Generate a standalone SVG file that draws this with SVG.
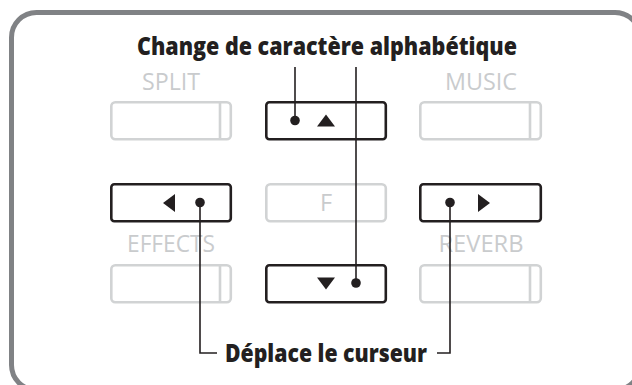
<svg xmlns="http://www.w3.org/2000/svg" width="632" height="385" viewBox="0 0 632 385">
<style>
.frame{fill:#fff;stroke:#808285;stroke-width:5}
.gbtn{fill:#fff;stroke:#d1d3d4;stroke-width:2.6}
.gline{stroke:#d1d3d4;stroke-width:2.6}
.kbtn{fill:#fff;stroke:#231f20;stroke-width:2.6}
.glabel{font-family:"Open Sans","Noto Sans",sans-serif;font-size:23.5px;fill:#c9cbcd;text-anchor:middle}
.title{font-family:"Open Sans","Noto Sans",sans-serif;font-size:24px;font-weight:800;fill:#231f20;text-anchor:middle}
.conn{fill:none;stroke:#231f20;stroke-width:1.6}
.dot{fill:#231f20}
.tri{fill:#231f20}
</style>
<rect class="frame" x="11.5" y="12.5" width="628.5" height="377.5" rx="25"/>
<text class="title" x="327" y="55" textLength="380" lengthAdjust="spacingAndGlyphs">Change de caractère alphabétique</text>
<text class="title" x="326" y="362" textLength="202" lengthAdjust="spacingAndGlyphs">Déplace le curseur</text>
<g id="split">
<text class="glabel" x="171" y="89.5" textLength="58" lengthAdjust="spacingAndGlyphs">SPLIT</text>
<rect class="gbtn" x="111.3" y="102.3" width="119.5" height="37" rx="4"/>
<line class="gline" x1="220" y1="102.3" x2="220" y2="139.3"/>
</g>
<g id="up">
<rect class="kbtn" x="266.3" y="102.3" width="119.5" height="37" rx="3"/>
<polygon class="tri" points="317,126.5 335,126.5 326,114.5"/>
</g>
<g id="music">
<text class="glabel" x="481" y="89.5" textLength="72" lengthAdjust="spacingAndGlyphs">MUSIC</text>
<rect class="gbtn" x="420.3" y="102.3" width="120.5" height="37" rx="4"/>
<line class="gline" x1="530" y1="102.3" x2="530" y2="139.3"/>
</g>
<g id="left">
<rect class="kbtn" x="111.3" y="184.3" width="119.5" height="37" rx="3"/>
<polygon class="tri" points="163,203 175,194 175,212"/>
</g>
<g id="f">
<rect class="gbtn" x="266.3" y="184.3" width="119.5" height="37" rx="4"/>
<text class="glabel" x="326" y="211">F</text>
</g>
<g id="right">
<rect class="kbtn" x="420.3" y="184.3" width="120.5" height="37" rx="3"/>
<polygon class="tri" points="490,203 478,194 478,212"/>
</g>
<g id="effects">
<text class="glabel" x="171" y="251.5" textLength="88" lengthAdjust="spacingAndGlyphs">EFFECTS</text>
<rect class="gbtn" x="111.3" y="265.3" width="119.5" height="37" rx="4"/>
<line class="gline" x1="220" y1="265.3" x2="220" y2="302.3"/>
</g>
<g id="down">
<rect class="kbtn" x="266.3" y="265.3" width="119.5" height="37" rx="3"/>
<polygon class="tri" points="317,277.5 335,277.5 326,289.5"/>
</g>
<g id="reverb">
<text class="glabel" x="481" y="251.5" textLength="85" lengthAdjust="spacingAndGlyphs">REVERB</text>
<rect class="gbtn" x="420.3" y="265.3" width="120.5" height="37" rx="4"/>
<line class="gline" x1="530" y1="265.3" x2="530" y2="302.3"/>
</g>
<g id="connectors">
<polyline class="conn" points="295,67 295,120.5"/>
<polyline class="conn" points="356,67 356,283"/>
<polyline class="conn" points="200,202.5 200,353 217,353"/>
<polyline class="conn" points="450,202.5 450,353 437,353"/>
<circle class="dot" cx="295" cy="120.5" r="4.8"/>
<circle class="dot" cx="356" cy="283" r="4.8"/>
<circle class="dot" cx="200" cy="202.5" r="4.8"/>
<circle class="dot" cx="450" cy="202.5" r="4.8"/>
</g>
</svg>
